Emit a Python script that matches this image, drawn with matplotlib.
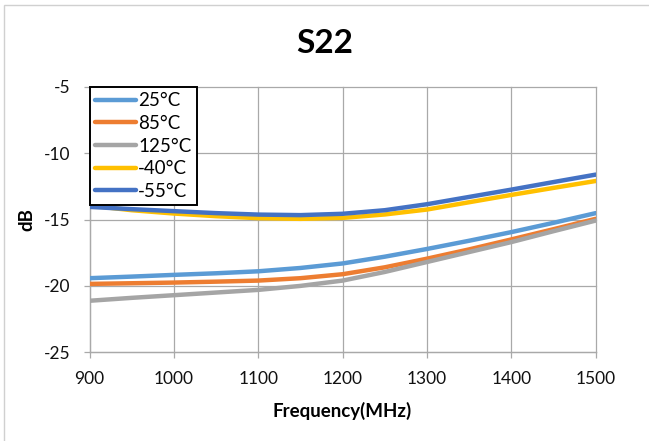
import matplotlib
matplotlib.use("Agg")
import matplotlib.pyplot as plt

# Frequency sweep (MHz) and S22 (dB) at each temperature
freq_mhz = [900, 950, 1000, 1050, 1100, 1150, 1200, 1250, 1300, 1350, 1400, 1450, 1500]
s22_25c = [-19.42, -19.30, -19.17, -19.05, -18.90, -18.65, -18.31, -17.80, -17.22, -16.60, -15.95, -15.25, -14.52]
s22_85c = [-19.85, -19.80, -19.75, -19.68, -19.60, -19.42, -19.12, -18.60, -17.95, -17.25, -16.50, -15.73, -14.95]
s22_125c = [-21.12, -20.90, -20.70, -20.50, -20.30, -20.00, -19.60, -18.95, -18.20, -17.45, -16.70, -15.88, -15.08]
s22_m40c = [-13.95, -14.30, -14.55, -14.75, -14.90, -14.95, -14.88, -14.62, -14.25, -13.70, -13.15, -12.62, -12.10]
s22_m55c = [-14.05, -14.22, -14.37, -14.52, -14.63, -14.67, -14.57, -14.30, -13.85, -13.30, -12.75, -12.18, -11.62]

series_labels = ["25°C", "85°C", "125°C", "-40°C", "-55°C"]
series_values = [s22_25c, s22_85c, s22_125c, s22_m40c, s22_m55c]
series_colors = ["#5B9BD5", "#ED7D31", "#A5A5A5", "#FFC000", "#4472C4"]

x_ticks = [900, 1000, 1100, 1200, 1300, 1400, 1500]
y_ticks = [-25, -20, -15, -10, -5]

plt.rcParams["font.family"] = ["Lato", "DejaVu Sans"]
plt.rcParams["axes.unicode_minus"] = False

W, H = 649, 441
fig = plt.figure(figsize=(W / 100, H / 100), dpi=100)

# plot area in pixel coordinates
left_px, right_px, top_px, bottom_px = 89.5, 595.7, 86.7, 352.3
ax = fig.add_axes([left_px / W, 1 - bottom_px / H,
                   (right_px - left_px) / W, (bottom_px - top_px) / H])

grid_color = "#A9A9A9"
for lbl, vals, col in zip(series_labels, series_values, series_colors):
    ax.plot(freq_mhz, vals, color=col, lw=3.2, label=lbl,
            solid_capstyle="round", solid_joinstyle="round", zorder=3)

ax.set_xlim(900, 1500)
ax.set_ylim(-25, -5)
ax.set_xticks(x_ticks)
ax.set_yticks(y_ticks)
ax.grid(True, color=grid_color, lw=0.9, zorder=1)
for gl in ax.get_xgridlines() + ax.get_ygridlines():
    gl.set_clip_on(False)

for s in ["top", "right"]:
    ax.spines[s].set_visible(False)
for s in ["left", "bottom"]:
    ax.spines[s].set_color(grid_color)
    ax.spines[s].set_linewidth(0.9)

ax.tick_params(axis="both", which="major", direction="out", length=4.5,
               width=0.9, color=grid_color, labelsize=12.5, labelcolor="#111111")
ax.tick_params(axis="x", pad=9)
ax.tick_params(axis="y", pad=9)

ax.set_xlabel("Frequency(MHz)", fontsize=13.5, fontweight="bold", labelpad=11)
ax.set_ylabel("dB", fontsize=13.5, fontweight="bold", labelpad=6)

fig.text(0.5, 1 - 43.5 / H, "S22", ha="center", va="center",
         fontsize=24, fontweight="bold")

leg = ax.legend(loc="upper left", bbox_to_anchor=(0, 1), borderaxespad=0,
                fontsize=13.5, frameon=True, fancybox=False, framealpha=1,
                edgecolor="black", handlelength=2.2, handletextpad=0.1,
                labelspacing=0.3, borderpad=0.3)
leg.get_frame().set_linewidth(1.4)
leg.set_zorder(5)
for h in leg.get_lines():
    h.set_linewidth(3.2)

# chart area border
fig.patches.append(plt.Rectangle((4 / W, -0.05), 1.1, 1 - 5 / H + 0.05,
                                 transform=fig.transFigure, fill=False,
                                 edgecolor="#D0D0D0", lw=1.0))

fig.savefig("out.png", dpi=100)
